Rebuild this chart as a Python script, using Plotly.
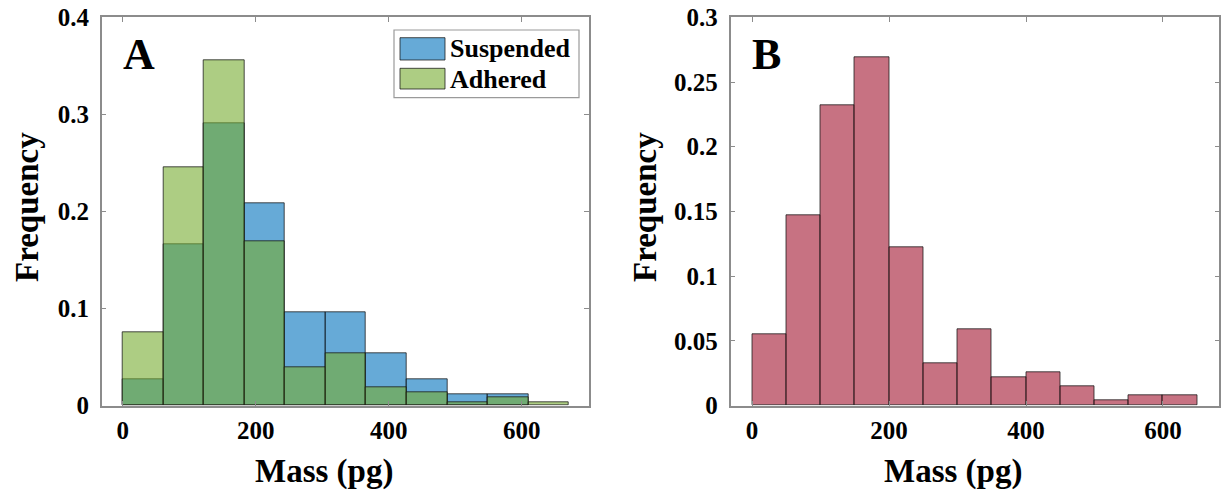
import plotly.graph_objects as go

# ---------------- data ----------------
bin_edges_A = [0, 61, 122, 183, 244, 305, 366, 427, 488, 549, 610]
bin_width_A = 61
suspended = [0.027, 0.166, 0.291, 0.208, 0.096, 0.096, 0.054, 0.027, 0.012, 0.012]
adhered = [0.075, 0.245, 0.356, 0.169, 0.039, 0.054, 0.019, 0.014, 0.0035, 0.0085, 0.0034]

bin_edges_B = [0, 50, 100, 150, 200, 250, 300, 350, 400, 450, 500, 550, 600]
bin_width_B = 50
freq_B = [0.055, 0.147, 0.232, 0.269, 0.122, 0.033, 0.059, 0.022, 0.026, 0.015, 0.004, 0.0077, 0.0077]

x_ticks = [0, 200, 400, 600]
y_ticks_A = [0, 0.1, 0.2, 0.3, 0.4]
y_labels_A = ["0", "0.1", "0.2", "0.3", "0.4"]
y_ticks_B = [0, 0.05, 0.1, 0.15, 0.2, 0.25, 0.3]
y_labels_B = ["0", "0.05", "0.1", "0.15", "0.2", "0.25", "0.3"]

# ---------------- styling ----------------
W, H = 1221, 497
FONT = "Liberation Serif"
BLUE = "rgba(0,114,189,0.6)"
GREEN = "rgba(119,172,48,0.6)"
RED = "rgba(162,20,47,0.6)"
EDGE = "rgba(20,20,20,0.75)"
AXC = "#8c8c8c"


def px(x):
    return x / W


def py(y):
    return 1 - y / H


fig = go.Figure()

fig.add_trace(go.Bar(x=bin_edges_A, y=suspended, width=bin_width_A, offset=0,
                     marker=dict(color=BLUE, line=dict(color=EDGE, width=1)),
                     name="Suspended", xaxis="x", yaxis="y", showlegend=False))
fig.add_trace(go.Bar(x=bin_edges_A + [671], y=adhered, width=bin_width_A, offset=0,
                     marker=dict(color=GREEN, line=dict(color=EDGE, width=1)),
                     name="Adhered", xaxis="x", yaxis="y", showlegend=False))
fig.add_trace(go.Bar(x=bin_edges_B, y=freq_B, width=bin_width_B, offset=0,
                     marker=dict(color=RED, line=dict(color=EDGE, width=1)),
                     name="B", xaxis="x2", yaxis="y2", showlegend=False))

tickfont = dict(family=FONT, size=25, color="black", weight="bold")
common_axis = dict(showline=True, linecolor=AXC, linewidth=1.5, mirror="ticks",
                   ticks="inside", ticklen=5, tickwidth=1, tickcolor=AXC,
                   showgrid=False, zeroline=False, tickfont=tickfont, automargin=False)

ydom = [py(405.5), py(17.3)]
fig.update_layout(
    template="none",
    width=W, height=H,
    margin=dict(l=0, r=0, t=0, b=0, pad=0, autoexpand=False),
    paper_bgcolor="white", plot_bgcolor="white",
    barmode="overlay", bargap=0, showlegend=False,
    xaxis=dict(domain=[px(101.7), px(589)], range=[-31.6, 701.2],
               tickvals=x_ticks, ticklabelstandoff=2, anchor="y", **common_axis),
    yaxis=dict(domain=ydom, range=[0, 0.4], tickvals=y_ticks_A, ticktext=y_labels_A,
               ticklabelstandoff=6, anchor="x", **common_axis),
    xaxis2=dict(domain=[px(730.5), px(1219.3)], range=[-31.4, 682.2],
                tickvals=x_ticks, ticklabelstandoff=2, anchor="y2", **common_axis),
    yaxis2=dict(domain=ydom, range=[0, 0.3], tickvals=y_ticks_B, ticktext=y_labels_B,
                ticklabelstandoff=6, anchor="x2", **common_axis),
)

ann = []
title_font = dict(family=FONT, size=33, color="black", weight="bold")
# axis titles
ann.append(dict(text="Mass (pg)", x=px(324.4), y=py(471), xref="paper", yref="paper",
                xanchor="center", yanchor="middle", showarrow=False, font=title_font))
ann.append(dict(text="Mass (pg)", x=px(953), y=py(471), xref="paper", yref="paper",
                xanchor="center", yanchor="middle", showarrow=False, font=title_font))
ann.append(dict(text="Frequency", x=px(27), y=py(207), xref="paper", yref="paper",
                xanchor="center", yanchor="middle", textangle=-90, showarrow=False, font=title_font))
ann.append(dict(text="Frequency", x=px(645), y=py(207), xref="paper", yref="paper",
                xanchor="center", yanchor="middle", textangle=-90, showarrow=False, font=title_font))
# panel letters
panel_font = dict(family=FONT, size=44, color="black", weight="bold")
ann.append(dict(text="A", x=px(121), y=py(55), xref="paper", yref="paper",
                xanchor="left", yanchor="middle", showarrow=False, font=panel_font))
ann.append(dict(text="B", x=px(750), y=py(55), xref="paper", yref="paper",
                xanchor="left", yanchor="middle", showarrow=False, font=panel_font))
# legend text
leg_font = dict(family=FONT, size=26, color="black", weight="bold")
ann.append(dict(text="Suspended", x=px(448), y=py(49), xref="paper", yref="paper",
                xanchor="left", yanchor="middle", showarrow=False, font=leg_font))
ann.append(dict(text="Adhered", x=px(448), y=py(79), xref="paper", yref="paper",
                xanchor="left", yanchor="middle", showarrow=False, font=leg_font))

shapes = []
# legend box
shapes.append(dict(type="rect", xref="paper", yref="paper", x0=px(394), x1=px(579),
                   y0=py(97.7), y1=py(30), fillcolor="white", line=dict(color="#9a9a9a", width=1.2)))
shapes.append(dict(type="rect", xref="paper", yref="paper", x0=px(400), x1=px(445),
                   y0=py(60), y1=py(37.7), fillcolor=BLUE, line=dict(color=EDGE, width=1)))
shapes.append(dict(type="rect", xref="paper", yref="paper", x0=px(400), x1=px(445),
                   y0=py(89), y1=py(68.3), fillcolor=GREEN, line=dict(color=EDGE, width=1)))

fig.update_layout(annotations=ann, shapes=shapes)

fig.write_html("out.html")
